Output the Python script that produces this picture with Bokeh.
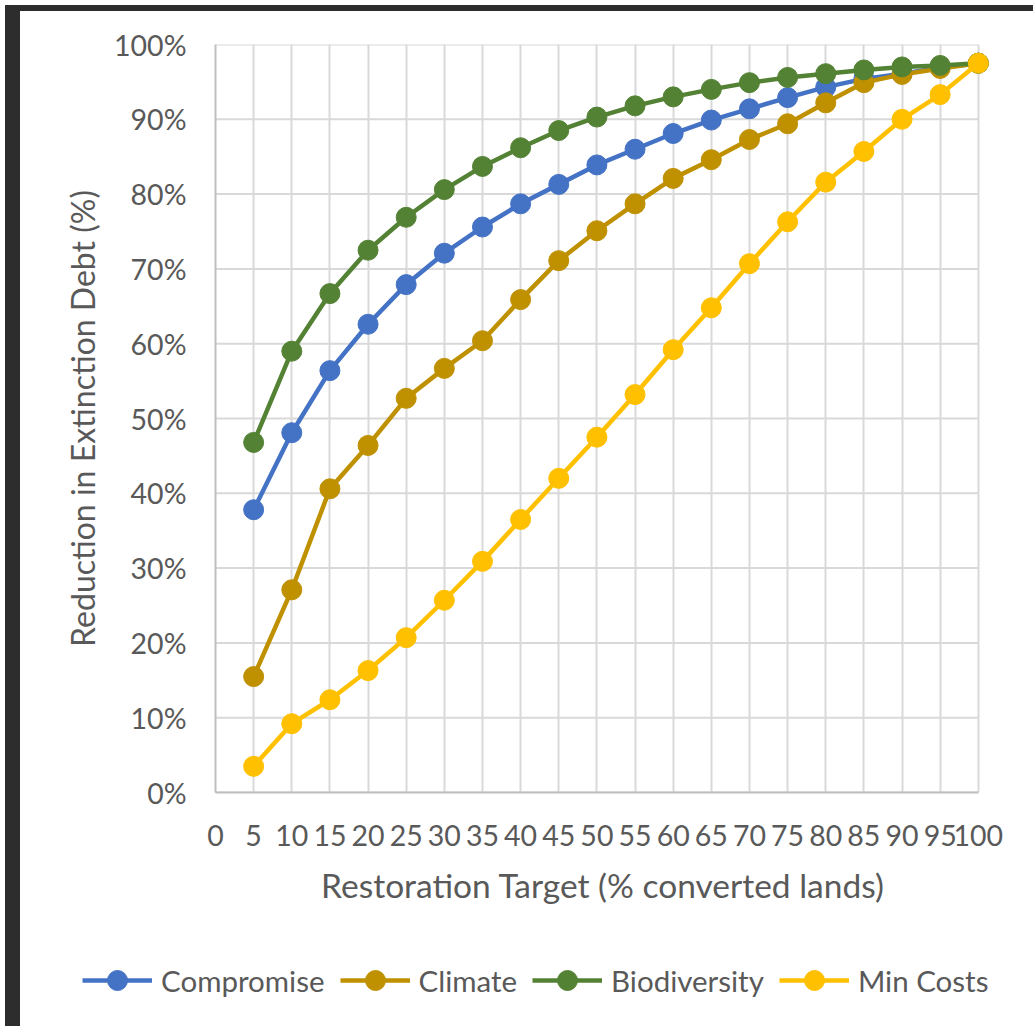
from bokeh.plotting import figure
from bokeh.models import FixedTicker, NumeralTickFormatter, Range1d, Legend, LegendItem, Div
from bokeh.embed import file_html
from bokeh.resources import INLINE

# ---- data ----
x_targets = [5, 10, 15, 20, 25, 30, 35, 40, 45, 50, 55, 60, 65, 70, 75, 80, 85, 90, 95, 100]
compromise = [0.378, 0.481, 0.564, 0.626, 0.679, 0.721, 0.756, 0.787, 0.813, 0.839,
              0.860, 0.881, 0.899, 0.914, 0.929, 0.943, 0.954, 0.961, 0.969, 0.975]
climate = [0.155, 0.271, 0.406, 0.464, 0.527, 0.567, 0.604, 0.659, 0.711, 0.751,
           0.787, 0.821, 0.846, 0.873, 0.894, 0.922, 0.949, 0.960, 0.968, 0.975]
biodiversity = [0.468, 0.590, 0.667, 0.725, 0.769, 0.806, 0.837, 0.862, 0.885, 0.903,
                0.918, 0.930, 0.940, 0.949, 0.956, 0.961, 0.966, 0.970, 0.972, 0.975]
min_costs = [0.035, 0.092, 0.124, 0.163, 0.207, 0.257, 0.309, 0.365, 0.420, 0.475,
             0.532, 0.592, 0.648, 0.707, 0.763, 0.816, 0.857, 0.900, 0.933, 0.975]

series_names = ["Compromise", "Climate", "Biodiversity", "Min Costs"]
series_values = [compromise, climate, biodiversity, min_costs]
series_colors = ["#4472C4", "#BF9000", "#548235", "#FFC000"]

x_ticks = [0, 5, 10, 15, 20, 25, 30, 35, 40, 45, 50, 55, 60, 65, 70, 75, 80, 85, 90, 95, 100]
y_ticks = [0.0, 0.1, 0.2, 0.3, 0.4, 0.5, 0.6, 0.7, 0.8, 0.9, 1.0]

FONT = "Lato"
TEXT_COLOR = "#595959"
GRID_COLOR = "#D9D9D9"

p = figure(width=1025, height=940, output_backend="svg", toolbar_location=None,
           x_range=Range1d(0, 101.6), y_range=Range1d(0, 1.0),
           min_border_left=215, min_border_right=35, min_border_top=44, min_border_bottom=148)
p.outline_line_color = None
p.background_fill_color = "white"
p.border_fill_color = "white"

# grid
p.xgrid.ticker = FixedTicker(ticks=x_ticks)
p.xgrid.grid_line_color = GRID_COLOR
p.xgrid.grid_line_width = 2
p.ygrid.visible = False
p.segment(x0=[x_ticks[0]] * len(y_ticks), x1=[x_ticks[-1]] * len(y_ticks),
          y0=y_ticks, y1=y_ticks, line_color=GRID_COLOR, line_width=2)

# axes
p.xaxis.ticker = FixedTicker(ticks=x_ticks)
p.xaxis.bounds = (0, 100)
p.yaxis.ticker = FixedTicker(ticks=y_ticks)
p.yaxis.formatter = NumeralTickFormatter(format="0%")
for ax in (p.xaxis[0], p.yaxis[0]):
    ax.axis_line_color = "#BFBFBF"
    ax.axis_line_width = 2
    ax.major_tick_line_color = None
    ax.minor_tick_line_color = None
    ax.major_label_text_font = FONT
    ax.major_label_text_font_size = "28.5px"
    ax.major_label_text_color = TEXT_COLOR
    ax.axis_label_text_font = FONT
    ax.axis_label_text_color = TEXT_COLOR
    ax.axis_label_text_font_style = "normal"
p.xaxis.axis_label_text_font_size = "33.5px"
p.yaxis.axis_label_text_font_size = "32px"
p.yaxis.major_label_standoff = 23
p.xaxis.major_label_standoff = 26
p.yaxis.axis_label = "Reduction in Extinction Debt (%)"
p.xaxis.axis_label = "Restoration Target (% converted lands)"
p.yaxis.axis_label_standoff = 9
p.xaxis.axis_label_standoff = 16

for name, vals, col in zip(series_names, series_values, series_colors):
    p.line(x_targets, vals, line_color=col, line_width=4.5)
    p.scatter(x_targets, vals, size=20, fill_color=col, line_color=col)

# ---- legend strip below the chart (separate root, full-width frame) ----
lg = figure(width=1025, height=78, output_backend="svg", toolbar_location=None,
            x_range=Range1d(0, 1), y_range=Range1d(0, 1),
            x_axis_location=None, y_axis_location=None,
            min_border_left=0, min_border_right=0, min_border_top=0, min_border_bottom=0)
lg.outline_line_color = None
lg.grid.visible = False
lg.background_fill_color = "white"
lg.border_fill_color = "white"

items = []
for name, vals, col in zip(series_names, series_values, series_colors):
    # series lie outside this strip's ranges; only their legend swatches show
    ln = lg.line(x_targets, vals, line_color=col, line_width=4.5)
    sc = lg.scatter(x_targets, vals, size=20, fill_color=col, line_color=col)
    items.append(LegendItem(label=name, renderers=[ln, sc]))

legend = Legend(items=items, orientation="horizontal", location=(82, 13),
                glyph_width=70, glyph_height=50, label_standoff=9, spacing=15,
                padding=0, margin=0, border_line_color=None, background_fill_alpha=0,
                label_text_font=FONT, label_text_font_size="29.5px",
                label_text_color=TEXT_COLOR)
lg.add_layout(legend, "center")

# dark window edges visible in the reference screenshot
edge_left = Div(text="", styles={"position": "fixed", "left": "0px", "top": "0px",
                                 "width": "15px", "height": "1026px",
                                 "background-color": "#2d2d2d", "z-index": "10"})
edge_top = Div(text="", styles={"position": "fixed", "left": "0px", "top": "0px",
                                "width": "1033px", "height": "6px",
                                "background-color": "#2d2d2d", "z-index": "10"})

open("out.html", "w").write(file_html([p, lg, edge_left, edge_top], INLINE))
